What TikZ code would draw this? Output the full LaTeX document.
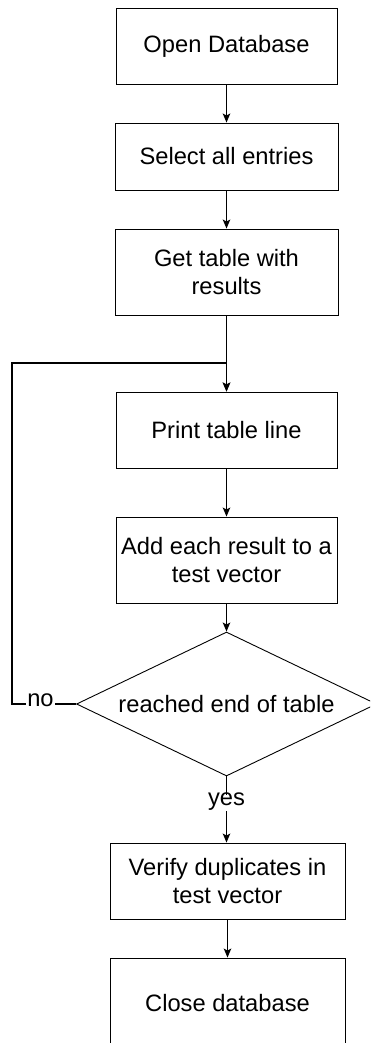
\documentclass[tikz,border=0pt]{standalone}
\usepackage{fontspec}
\setmainfont{Liberation Sans}
\usetikzlibrary{shapes.geometric,arrows.meta}
\begin{document}
\begin{tikzpicture}[x=1pt,y=-1pt,
  every node/.style={font=\fontsize{23.7}{28.4}\selectfont},
  box/.style={draw, line width=0.9pt, inner sep=0pt, align=center},
  flow/.style={line width=1.4pt, -{Stealth[length=9pt,width=7.5pt,inset=2pt]}},
  lbl/.style={fill=white, inner xsep=1pt, inner ysep=3pt, text height=0.72em, text depth=0.22em}]
\path[use as bounding box] (0,0) rectangle (370,1043);
\clip (0,0) rectangle (370,1043);

% process steps
\node[box, minimum width=221pt, minimum height=76pt] (open)  at (226.5,46)  {Open Database};
\node[box, minimum width=223pt, minimum height=67pt] (sel)   at (226.5,156.5) {Select all entries};
\node[box, minimum width=223pt, minimum height=86pt] (get)   at (226.5,272) {Get table with\\results};
\node[box, minimum width=221pt, minimum height=76pt] (print) at (226.5,430) {Print table line};
\node[box, minimum width=221pt, minimum height=86pt] (add)   at (226.5,560) {Add each result to a\\test vector};
\node[box, shape=diamond, shape aspect=2.083, minimum width=300pt, minimum height=144pt] (dia) at (226.5,704) {reached end of table};
\node[box, minimum width=235pt, minimum height=76pt] (ver)   at (227.5,881) {Verify duplicates in\\test vector};
\node[box, minimum width=235pt, minimum height=90pt] (close) at (227.5,1003) {Close database};

% loop-back corners
\coordinate (loopL) at (12,704);
\coordinate (join) at (226.5,363);

% connectors
\draw[flow] (open) -- (sel);
\draw[flow] (sel) -- (get);
\draw[flow] (get) -- (print);
\draw[flow] (print) -- (add);
\draw[flow] (add) -- (dia);
\draw[flow] (dia.west) -- node[lbl, pos=0.555] {no} (loopL) |- (join) -- (print.north);
\draw[flow] (dia.south) -- node[lbl, pos=0.4] {yes} (dia.south |- ver.north);
\draw[flow] (ver) -- (close);
\end{tikzpicture}
\end{document}
